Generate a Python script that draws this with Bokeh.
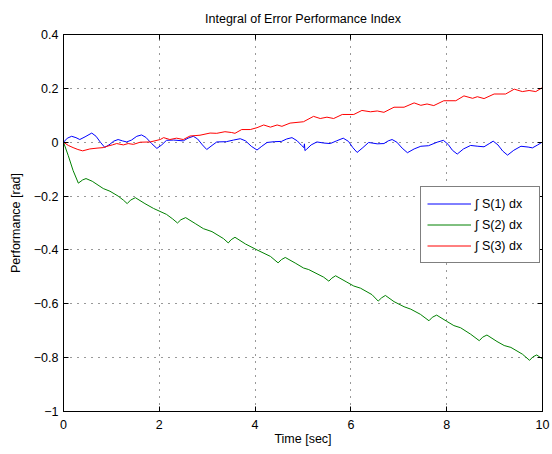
from bokeh.plotting import figure
from bokeh.models import (LinearAxis, FixedTicker, CustomJSTickFormatter, Legend,
                          LegendItem, Range1d)
from bokeh.embed import file_html
from bokeh.resources import INLINE

# ---------------- data ----------------
title_text = "Integral of Error Performance Index"
x_label = "Time [sec]"
y_label = "Performance [rad]"
series_names = ["\u222b S(1) dx", "\u222b S(2) dx", "\u222b S(3) dx"]
x_ticks = [0, 2, 4, 6, 8, 10]
y_ticks = [-1, -0.8, -0.6, -0.4, -0.2, 0, 0.2, 0.4]

t1 = [0.00, 0.08, 0.17, 0.26, 0.34, 0.45, 0.59, 0.68, 0.77, 0.86, 0.95, 1.05, 1.14,
      1.23, 1.32, 1.42, 1.53, 1.63, 1.72, 1.84, 1.95, 2.05, 2.15, 2.30, 2.50, 2.60,
      2.71, 2.80, 2.90, 2.99, 3.10, 3.20, 3.40, 3.55, 3.69, 3.80, 3.92, 4.04, 4.14,
      4.25, 4.40, 4.55, 4.66, 4.77, 4.88, 4.97, 5.02, 5.03, 5.04, 5.07, 5.17, 5.29,
      5.43, 5.57, 5.70, 5.84, 5.95, 6.04, 6.13, 6.25, 6.37, 6.55, 6.69, 6.78, 6.86,
      6.96, 7.07, 7.18, 7.32, 7.46, 7.62, 7.80, 7.93, 8.03, 8.12, 8.22, 8.35, 8.50,
      8.65, 8.78, 8.90, 8.97, 9.07, 9.17, 9.27, 9.40, 9.55, 9.70, 9.79, 9.90, 10.0]
s1 = [0.000, 0.015, 0.022, 0.017, 0.010, 0.020, 0.034, 0.022, 0.000, -0.019, -0.010,
      0.004, 0.010, 0.005, 0.001, 0.008, 0.022, 0.027, 0.018, -0.005, -0.023, -0.010,
      0.007, 0.008, 0.005, 0.015, 0.022, 0.012, -0.010, -0.027, -0.012, 0.001, 0.002,
      0.008, 0.013, 0.005, -0.015, -0.029, -0.015, -0.001, 0.002, 0.003, 0.012, 0.017,
      0.005, -0.012, -0.020, -0.006, -0.031, -0.027, -0.010, 0.001, -0.003, -0.005,
      0.005, 0.015, 0.003, -0.020, -0.038, -0.020, -0.001, -0.006, -0.005, 0.005,
      0.010, 0.000, -0.022, -0.039, -0.025, -0.015, -0.013, 0.000, 0.007, -0.008,
      -0.030, -0.044, -0.025, -0.012, -0.015, -0.017, -0.004, 0.004, -0.010, -0.033,
      -0.048, -0.030, -0.015, -0.018, -0.021, -0.010, 0.001]

t2 = [0.00, 0.10, 0.20, 0.31, 0.40, 0.47, 0.60, 0.83, 0.97, 1.14, 1.25, 1.33, 1.40,
      1.50, 1.70, 1.88, 2.15, 2.28, 2.38, 2.45, 2.55, 2.75, 2.92, 3.10, 3.34, 3.44,
      3.50, 3.58, 3.80, 4.04, 4.32, 4.48, 4.55, 4.63, 4.85, 5.01, 5.12, 5.43, 5.54,
      5.60, 5.68, 5.90, 6.06, 6.20, 6.44, 6.57, 6.64, 6.72, 6.90, 7.11, 7.25, 7.45,
      7.63, 7.70, 7.79, 8.00, 8.15, 8.29, 8.50, 8.68, 8.75, 8.84, 9.05, 9.20, 9.34,
      9.58, 9.73, 9.80, 9.88, 10.0]
s2 = [0.000, -0.050, -0.105, -0.152, -0.140, -0.135, -0.145, -0.172, -0.182, -0.200,
      -0.215, -0.228, -0.215, -0.206, -0.228, -0.246, -0.268, -0.285, -0.300, -0.288,
      -0.280, -0.302, -0.321, -0.332, -0.358, -0.374, -0.362, -0.353, -0.378, -0.400,
      -0.424, -0.448, -0.436, -0.428, -0.450, -0.467, -0.473, -0.501, -0.516, -0.505,
      -0.496, -0.518, -0.534, -0.542, -0.566, -0.590, -0.578, -0.569, -0.592, -0.611,
      -0.620, -0.639, -0.663, -0.650, -0.642, -0.665, -0.681, -0.689, -0.713, -0.737,
      -0.724, -0.716, -0.740, -0.755, -0.762, -0.787, -0.810, -0.797, -0.790, -0.805]

t3 = [0.00, 0.10, 0.20, 0.30, 0.40, 0.55, 0.70, 0.83, 0.93, 1.02, 1.11, 1.25, 1.35,
      1.46, 1.60, 1.81, 2.02, 2.09, 2.22, 2.36, 2.50, 2.64, 2.85, 3.06, 3.20, 3.37,
      3.51, 3.58, 3.72, 3.90, 4.04, 4.18, 4.32, 4.46, 4.56, 4.73, 5.01, 5.22, 5.36,
      5.50, 5.64, 5.82, 6.06, 6.23, 6.41, 6.55, 6.69, 6.90, 7.11, 7.32, 7.46, 7.59,
      7.73, 7.94, 8.19, 8.36, 8.54, 8.64, 8.78, 8.99, 9.23, 9.41, 9.58, 9.72, 9.86, 10.0]
s3 = [0.000, -0.012, -0.020, -0.027, -0.032, -0.025, -0.022, -0.020, -0.014, -0.010,
      -0.005, -0.010, -0.005, -0.008, 0.000, 0.001, 0.010, 0.017, 0.010, 0.015, 0.010,
      0.023, 0.026, 0.034, 0.033, 0.039, 0.036, 0.033, 0.047, 0.047, 0.054, 0.064,
      0.056, 0.064, 0.059, 0.071, 0.076, 0.096, 0.088, 0.093, 0.088, 0.103, 0.103,
      0.118, 0.113, 0.116, 0.111, 0.130, 0.130, 0.146, 0.137, 0.142, 0.136, 0.154,
      0.154, 0.172, 0.163, 0.169, 0.162, 0.179, 0.179, 0.197, 0.188, 0.192, 0.188, 0.203]

colors = ["#0000ff", "#008000", "#ff0000"]

# ---------------- figure ----------------
FONT = "Liberation Sans"
FS = "12.5px"

p = figure(width=550, height=452, output_backend="svg",
           toolbar_location=None, x_range=Range1d(0, 10), y_range=Range1d(-1, 0.4),
           min_border_left=63, min_border_right=8, min_border_top=34,
           min_border_bottom=41, title=title_text)
p.background_fill_color = "white"
p.border_fill_color = "white"
p.outline_line_color = "black"
p.outline_line_width = 1

p.title.align = "center"
p.title.text_font = FONT
p.title.text_font_size = FS
p.title.text_font_style = "normal"
p.title.text_color = "black"
p.title.standoff = 18

fmt = CustomJSTickFormatter(code="""
const a = Math.abs(tick);
const s = String(Math.round(a * 10) / 10);
return (tick < 0 ? "\\u2212" : "") + s;
""")

def style_axis(ax, ticks, show_labels=True):
    ax.ticker = FixedTicker(ticks=ticks)
    ax.axis_line_color = "black"
    ax.major_tick_line_color = "black"
    ax.major_tick_in = 5
    ax.major_tick_out = 0
    ax.minor_tick_line_color = None
    ax.major_label_text_font = FONT
    ax.major_label_text_font_size = FS
    ax.major_label_text_color = "black"
    ax.axis_label_text_font = FONT
    ax.axis_label_text_font_size = FS
    ax.axis_label_text_font_style = "normal"
    ax.axis_label_text_color = "black"
    if show_labels:
        ax.formatter = fmt
    else:
        ax.major_label_overrides = {t: "" for t in ticks}
        ax.major_label_standoff = 0

style_axis(p.xaxis[0], x_ticks)
style_axis(p.yaxis[0], y_ticks)
p.xaxis[0].axis_label = x_label
p.yaxis[0].axis_label = y_label
p.xaxis[0].major_label_standoff = 8
p.xaxis[0].axis_label_standoff = 0
p.yaxis[0].major_label_standoff = 5
p.yaxis[0].axis_label_standoff = 8

top_ax = LinearAxis()
right_ax = LinearAxis()
style_axis(top_ax, x_ticks, show_labels=False)
style_axis(right_ax, y_ticks, show_labels=False)
p.add_layout(top_ax, "above")
p.add_layout(right_ax, "right")

for g in (p.xgrid[0], p.ygrid[0]):
    g.grid_line_color = "#333333"
    g.grid_line_dash = "1 6"
    g.grid_line_width = 1
p.xgrid[0].ticker = FixedTicker(ticks=x_ticks)
p.ygrid[0].ticker = FixedTicker(ticks=y_ticks)

r1 = p.line(t1, s1, line_color=colors[0], line_width=1)
r2 = p.line(t2, s2, line_color=colors[1], line_width=1)
r3 = p.line(t3, s3, line_color=colors[2], line_width=1)

legend = Legend(items=[LegendItem(label=series_names[0], renderers=[r1]),
                       LegendItem(label=series_names[1], renderers=[r2]),
                       LegendItem(label=series_names[2], renderers=[r3])],
                location=(357, 148))
legend.label_text_font = FONT
legend.label_text_font_size = FS
legend.label_text_color = "black"
legend.glyph_width = 44
legend.glyph_height = 21
legend.label_height = 21
legend.label_width = 58
legend.label_standoff = 4
legend.padding = 6
legend.spacing = 0
legend.margin = 0
legend.border_line_color = "black"
legend.border_line_width = 1
legend.background_fill_color = "white"
legend.background_fill_alpha = 1
p.add_layout(legend, "center")

open("out.html", "w").write(file_html(p, INLINE))
